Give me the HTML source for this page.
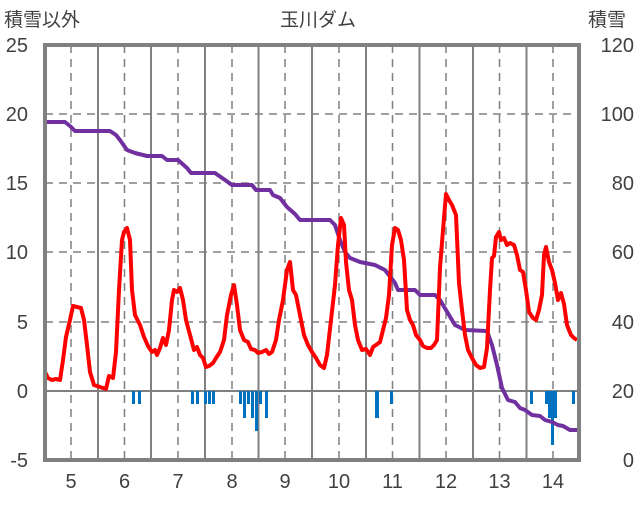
<!DOCTYPE html>
<html><head><meta charset="utf-8"><style>
body{margin:0;background:#fff;}
svg text{font-family:"Liberation Sans","Noto Sans CJK JP",sans-serif;fill:#404040;}
</style></head><body>
<svg width="636" height="501" xmlns="http://www.w3.org/2000/svg">
<rect width="636" height="501" fill="#fff"/>
<g stroke="#808080" stroke-width="1.5" stroke-dasharray="8,6">
<line x1="45" y1="114" x2="579" y2="114"/><line x1="45" y1="183" x2="579" y2="183"/><line x1="45" y1="252" x2="579" y2="252"/><line x1="45" y1="322" x2="579" y2="322"/>
<line x1="71" y1="45" x2="71" y2="460"/><line x1="124.5" y1="45" x2="124.5" y2="460"/><line x1="178" y1="45" x2="178" y2="460"/><line x1="232" y1="45" x2="232" y2="460"/><line x1="285" y1="45" x2="285" y2="460"/><line x1="339" y1="45" x2="339" y2="460"/><line x1="392.5" y1="45" x2="392.5" y2="460"/><line x1="446" y1="45" x2="446" y2="460"/><line x1="499.5" y1="45" x2="499.5" y2="460"/><line x1="553" y1="45" x2="553" y2="460"/>
</g>
<g stroke="#808080" stroke-width="2">
<line x1="45" y1="391" x2="579" y2="391"/>
<line x1="98" y1="45" x2="98" y2="460"/><line x1="151" y1="45" x2="151" y2="460"/><line x1="205" y1="45" x2="205" y2="460"/><line x1="258.5" y1="45" x2="258.5" y2="460"/><line x1="312" y1="45" x2="312" y2="460"/><line x1="366" y1="45" x2="366" y2="460"/><line x1="419.5" y1="45" x2="419.5" y2="460"/><line x1="473" y1="45" x2="473" y2="460"/><line x1="526.5" y1="45" x2="526.5" y2="460"/>
</g>
<g fill="#0070c0">
<rect x="44" y="391" width="3" height="13"/><rect x="132" y="391" width="3" height="13"/><rect x="138" y="391" width="3" height="13"/>
<rect x="191" y="391" width="3" height="13"/><rect x="196" y="391" width="3" height="13"/><rect x="204" y="391" width="3" height="13"/><rect x="208" y="391" width="3" height="13"/><rect x="212" y="391" width="3" height="13"/>
<rect x="239" y="391" width="3" height="13"/><rect x="243" y="391" width="3" height="27"/><rect x="247" y="391" width="3" height="13"/><rect x="251" y="391" width="3" height="27"/><rect x="255" y="391" width="3" height="40"/><rect x="259" y="391" width="3" height="13"/><rect x="265" y="391" width="3" height="27"/>
<rect x="375" y="391" width="4" height="27"/><rect x="390" y="391" width="3" height="13"/>
<rect x="530" y="391" width="3" height="13"/><rect x="545" y="391" width="3" height="13"/><rect x="548" y="391" width="3" height="27"/><rect x="551" y="391" width="3" height="54"/><rect x="554" y="391" width="3" height="27"/><rect x="572" y="391" width="3" height="13"/>
</g>
<polyline fill="none" stroke="#7030a0" stroke-width="4" stroke-linejoin="round" points="45,122 65,122 70,126 75,131 110,131 116,135 120,140 127,150 135,153 147,156 162,156 167,160 178,160 187,168 191,173 215,173 225,180 232,185 252,185 256,190 270,190 273,195 280,198 287,207 295,214 300,220 330,220 335,225 340,240 345,252 350,258 360,262 375,265 385,270 395,283 398,290 415,290 420,295 435,295 440,300 446,310 455,325 465,330 487,331 492,345 497,365 502,388 508,400 515,402 520,408 525,410 532,415 540,416 545,420 552,422 558,425 563,426 570,430 579,430"/>
<polyline fill="none" stroke="#ff0000" stroke-width="4" stroke-linejoin="round" points="45,372 48,378 52,380 56,379 60,380 63,360 66,337 70,320 73,306 77,307 81,308 84,320 87,345 90,372 94,385 100,387 106,389 109,376 113,378 116,352 119,290 122,240 124,232 127,228 130,240 132,290 135,315 140,325 144,337 148,346 152,352 155,350 157,355 160,348 163,338 166,345 169,330 172,300 174,290 177,292 180,288 183,300 186,320 190,335 194,350 197,347 200,355 203,358 206,367 209,366 213,363 216,358 220,352 224,340 227,315 231,295 234,285 237,305 240,330 244,340 248,342 251,349 255,350 258,353 262,352 266,350 269,354 272,352 276,340 279,320 283,300 287,270 290,262 293,290 296,295 300,315 304,335 308,345 312,352 316,358 320,365 324,368 327,355 331,320 335,285 338,245 341,218 344,225 346,262 349,290 352,300 355,325 358,340 362,350 366,349 370,355 373,347 376,345 380,342 383,330 386,318 389,295 392,245 395,228 398,230 401,240 404,260 407,310 410,320 413,325 416,335 420,340 423,346 427,348 431,348 434,345 437,340 440,268 443,230 446,194 449,200 452,205 456,215 459,283 462,310 465,335 468,350 472,358 476,365 480,368 484,367 487,348 490,290 492,258 494,256 496,237 499,232 501,240 504,238 507,245 510,243 514,245 517,255 520,270 523,272 526,290 529,312 533,318 536,320 539,310 542,295 544,255 546,247 549,262 552,270 555,283 558,300 561,293 564,304 567,325 571,335 574,338 577,340"/>
<rect x="45" y="45" width="534" height="415" fill="none" stroke="#808080" stroke-width="4"/>
<g font-size="20" text-anchor="end">
<text x="28" y="52">25</text><text x="28" y="121">20</text><text x="28" y="190">15</text><text x="28" y="259">10</text><text x="28" y="329">5</text><text x="28" y="398">0</text><text x="28" y="467">-5</text>
</g>
<g font-size="20" text-anchor="end">
<text x="634" y="52">120</text><text x="634" y="121">100</text><text x="634" y="190">80</text><text x="634" y="259">60</text><text x="634" y="329">40</text><text x="634" y="398">20</text><text x="634" y="467">0</text>
</g>
<g font-size="20" text-anchor="middle">
<text x="71" y="488">5</text><text x="124.5" y="488">6</text><text x="178" y="488">7</text><text x="232" y="488">8</text><text x="285" y="488">9</text><text x="339" y="488">10</text><text x="392.5" y="488">11</text><text x="446" y="488">12</text><text x="499.5" y="488">13</text><text x="553" y="488">14</text>
</g>
<text x="4" y="26" font-size="19">積雪以外</text>
<text x="318" y="26" font-size="19" text-anchor="middle">玉川ダム</text>
<text x="588" y="26" font-size="19">積雪</text>
</svg>
</body></html>
